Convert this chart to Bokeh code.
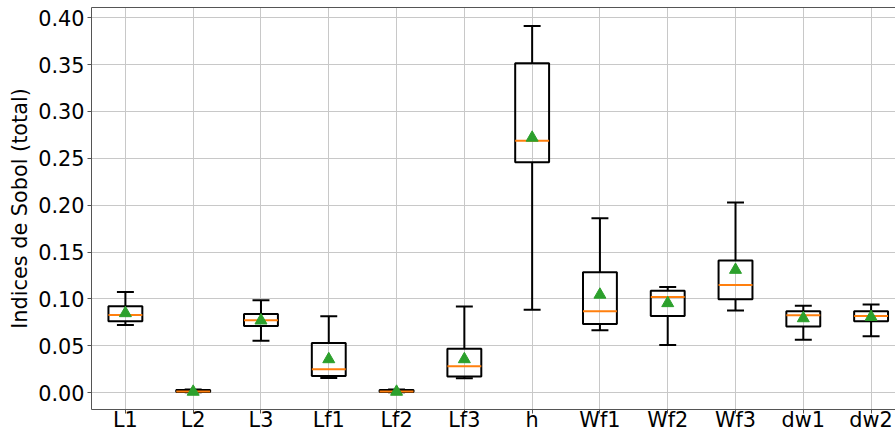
import numpy as np
from bokeh.plotting import figure
from bokeh.models import FixedTicker, Range1d, ColumnDataSource, LinearAxis
from bokeh.embed import file_html
from bokeh.resources import INLINE

labels = ["L1", "L2", "L3", "Lf1", "Lf2", "Lf3", "h", "Wf1", "Wf2", "Wf3", "dw1", "dw2"]
whisk_lo = [0.0722, 0.0004, 0.0555, 0.0158, 0.0004, 0.0154, 0.0884, 0.0665, 0.0508, 0.0877, 0.0566, 0.0601]
q1 = [0.0762, 0.0008, 0.0712, 0.0179, 0.0008, 0.0172, 0.2458, 0.0733, 0.0819, 0.0998, 0.0705, 0.0762]
med = [0.0830, 0.0014, 0.0773, 0.0250, 0.0014, 0.0282, 0.2687, 0.0869, 0.1020, 0.1148, 0.0826, 0.0819]
q3 = [0.0923, 0.0030, 0.0840, 0.0529, 0.0030, 0.0469, 0.3513, 0.1284, 0.1088, 0.1410, 0.0869, 0.0869]
whisk_hi = [0.1073, 0.0035, 0.0987, 0.0816, 0.0035, 0.0920, 0.3910, 0.1860, 0.1127, 0.2029, 0.0927, 0.0941]
means = [0.0848, 0.0010, 0.0770, 0.0357, 0.0010, 0.0357, 0.2719, 0.1045, 0.0955, 0.1310, 0.0794, 0.0808]
y_ticks = [0.00, 0.05, 0.10, 0.15, 0.20, 0.25, 0.30, 0.35, 0.40]

x = np.arange(1, len(labels) + 1)
box_w = 0.5
cap_w = 0.25

src = ColumnDataSource(dict(
    x=x, left=x - box_w / 2, right=x + box_w / 2,
    cl=x - cap_w / 2, cr=x + cap_w / 2,
    lo=whisk_lo, q1=q1, med=med, q3=q3, hi=whisk_hi, mean=means,
))

FONT = "DejaVu Sans"
FS = "20.8px"
SPINE = "#555555"

p = figure(width=895, height=434, output_backend="svg", toolbar_location=None,
           x_range=Range1d(0.5, 12.36), y_range=Range1d(-0.0179, 0.4108),
           min_border_left=91, min_border_right=0, min_border_top=7, min_border_bottom=0)
p.outline_line_color = None

xax = p.below[0]
yax = p.left[0]

# top spine (no ticks, no labels)
top = LinearAxis(ticker=FixedTicker(ticks=[]), axis_line_color=SPINE,
                 major_tick_line_color=None, minor_tick_line_color=None,
                 major_tick_out=0, major_label_standoff=0)
p.add_layout(top, "above")

xax.ticker = FixedTicker(ticks=list(x))
xax.major_label_overrides = {int(i): l for i, l in zip(x, labels)}
yax.ticker = FixedTicker(ticks=y_ticks)
yax.major_label_overrides = {t: f"{t:.2f}" for t in y_ticks}

for ax in (xax, yax):
    ax.axis_line_color = SPINE
    ax.major_tick_line_color = SPINE
    ax.major_tick_out = 4
    ax.major_tick_in = 0
    ax.minor_tick_line_color = None
    ax.major_label_text_font = FONT
    ax.major_label_text_font_size = FS
    ax.major_label_text_color = "black"
    ax.major_label_standoff = 3
xax.major_label_standoff = -6

yax.axis_label = "Indices de Sobol (total)"
yax.axis_label_text_font = FONT
yax.axis_label_text_font_size = FS
yax.axis_label_text_font_style = "normal"
yax.axis_label_text_color = "black"
yax.axis_label_standoff = 3

p.grid.grid_line_color = "#c8c8c8"
p.grid.grid_line_width = 1

LW = 2
# whiskers
p.segment(x0="x", y0="q3", x1="x", y1="hi", source=src, line_color="black", line_width=LW)
p.segment(x0="x", y0="q1", x1="x", y1="lo", source=src, line_color="black", line_width=LW)
# caps
p.segment(x0="cl", y0="hi", x1="cr", y1="hi", source=src, line_color="black", line_width=LW)
p.segment(x0="cl", y0="lo", x1="cr", y1="lo", source=src, line_color="black", line_width=LW)
# boxes
p.quad(left="left", right="right", bottom="q1", top="q3", source=src,
       fill_color=None, line_color="black", line_width=LW)
# medians
p.segment(x0="left", y0="med", x1="right", y1="med", source=src, line_color="#ff7f0e", line_width=LW)
# means
p.scatter(x="x", y="mean", source=src, marker="triangle", size=12,
          fill_color="#2ca02c", line_color="#2ca02c")

open("out.html", "w").write(file_html(p, INLINE))
